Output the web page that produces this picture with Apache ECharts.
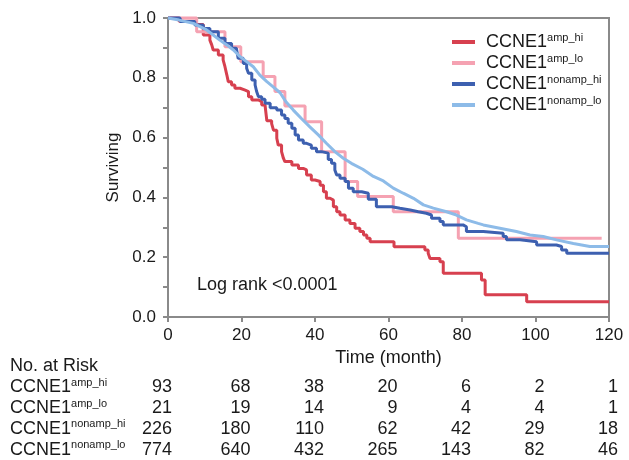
<!DOCTYPE html>
<html>
<head>
<meta charset="utf-8">
<script src="https://cdn.jsdelivr.net/npm/echarts@6/dist/echarts.min.js"></script>
<style>
  html, body { margin: 0; padding: 0; background: #fff; }
  #chart { width: 629px; height: 460px; }
</style>
</head>
<body>
<div id="chart"></div>
<script>
// survival curves, [month, surviving] at each drop
const groups = ['amp_hi', 'amp_lo', 'nonamp_hi', 'nonamp_lo'];

const ampHi = [
  [0, 1], [3, 0.989], [7.5, 0.978], [9.6, 0.943], [11.4, 0.926], [11.9, 0.91], [12.3, 0.893],
  [13.7, 0.876], [15, 0.86], [15.5, 0.837], [16, 0.81], [16.4, 0.787], [17.3, 0.776],
  [18.2, 0.765], [19.6, 0.759], [21, 0.754], [21.9, 0.737], [22.8, 0.726], [24.6, 0.72],
  [25.5, 0.709], [26.4, 0.703], [26.9, 0.656], [28.2, 0.647], [28.7, 0.625], [29.6, 0.598],
  [30, 0.575], [30.9, 0.553], [31.4, 0.531], [31.8, 0.52], [33.7, 0.508], [35.5, 0.497],
  [36.8, 0.492], [37.7, 0.475], [39, 0.458], [40, 0.453], [41.4, 0.441], [42.3, 0.419],
  [43.1, 0.397], [44.1, 0.391], [45, 0.369], [45.9, 0.352], [46.8, 0.341], [48.2, 0.324],
  [49.5, 0.313], [50.9, 0.297], [52.2, 0.286], [53.2, 0.274], [54.1, 0.263], [55, 0.252],
  [61.5, 0.235], [69.9, 0.224], [70.8, 0.213], [71.3, 0.196], [74, 0.185], [74.9, 0.146],
  [85.3, 0.124], [86.3, 0.074], [97.6, 0.051], [120, 0.051]
];
const ampLo = [
  [0, 1], [7.8, 0.954], [15.5, 0.904], [19.8, 0.854], [25.9, 0.804], [29.1, 0.754],
  [31.8, 0.706], [37.3, 0.653], [41.8, 0.553], [48.2, 0.453], [51.6, 0.403], [61.3, 0.352],
  [79, 0.263], [118, 0.263]
];
const nonampHi = [
  [0, 1], [3.3, 0.988], [7.3, 0.977], [9.6, 0.965], [11.4, 0.954], [13.7, 0.932], [15.5, 0.915],
  [17.3, 0.899], [18.6, 0.893], [19.1, 0.865], [20.5, 0.848], [21.4, 0.832], [21.9, 0.815],
  [22.8, 0.793], [23.7, 0.776], [24.1, 0.755], [24.6, 0.737], [25.5, 0.728], [26.4, 0.715],
  [27.8, 0.7], [29.6, 0.692], [30.9, 0.676], [31.8, 0.664], [32.7, 0.648], [33.7, 0.631],
  [34.6, 0.609], [35.5, 0.592], [36.8, 0.581], [37.7, 0.575], [39, 0.564], [40.4, 0.553],
  [41.8, 0.548], [43.6, 0.527], [44.5, 0.514], [45.4, 0.492], [45.9, 0.475], [46.8, 0.464],
  [48.2, 0.453], [49.1, 0.431], [50.4, 0.419], [52.7, 0.414], [54.5, 0.394], [56.7, 0.369],
  [60.9, 0.364], [63.1, 0.358], [65.9, 0.352], [68.1, 0.347], [70.3, 0.341], [71.7, 0.33],
  [74, 0.319], [74.9, 0.308], [80.3, 0.302], [81.2, 0.286], [85.8, 0.28], [91.2, 0.269],
  [92.1, 0.258], [95.8, 0.252], [100.3, 0.241], [105.7, 0.236], [107.1, 0.224],
  [108.5, 0.213], [120, 0.213]
];
const nonampLo = [
  [0, 1], [3, 0.993], [6.9, 0.982], [8.7, 0.971], [10.5, 0.96], [12.3, 0.943], [14.1, 0.926],
  [16, 0.91], [17.8, 0.893], [19.6, 0.871], [21.4, 0.854], [23.2, 0.837], [25, 0.809],
  [26.9, 0.787], [28.7, 0.769], [30.5, 0.75], [32.2, 0.718], [34.1, 0.692], [36.3, 0.664],
  [38.6, 0.636], [40.9, 0.609], [43.1, 0.581], [45.4, 0.553], [47.7, 0.531], [49.9, 0.514],
  [53, 0.494], [55.9, 0.47], [58.6, 0.455], [61.3, 0.431], [64, 0.414], [66.8, 0.397],
  [69.5, 0.375], [72.2, 0.364], [75.8, 0.352], [78.5, 0.341], [81.2, 0.325], [84.4, 0.313],
  [85.8, 0.308], [90.3, 0.297], [94.8, 0.286], [98.5, 0.274], [102.1, 0.269], [105.7, 0.258],
  [110.3, 0.246], [114.8, 0.236], [120, 0.236]
];
const curves = [ampHi, ampLo, nonampHi, nonampLo];

// number at risk table
const riskTimes = [0, 20, 40, 60, 80, 100, 120];
const riskAmpHi = [93, 68, 38, 20, 6, 2, 1];
const riskAmpLo = [21, 19, 14, 9, 4, 4, 1];
const riskNonampHi = [226, 180, 110, 62, 42, 29, 18];
const riskNonampLo = [774, 640, 432, 265, 143, 82, 46];
const riskCounts = [riskAmpHi, riskAmpLo, riskNonampHi, riskNonampLo];
const riskTitle = 'No. at Risk';

const colors = ['#d7404f', '#f5a2b2', '#3d60b0', '#8dbbe8'];
const FONT = '"Liberation Sans", Arial, sans-serif';
const INK = '#1a1a1a';
const GRAY = '#8a8a8a';

const chart = echarts.init(document.getElementById('chart'), null, { renderer: 'canvas' });

const supRich = {
  b: { fontSize: 18, lineHeight: 20, color: INK, fontFamily: FONT },
  s: { fontSize: 11, lineHeight: 13, verticalAlign: 'top', color: INK, fontFamily: FONT },
  t: { fontSize: 18, lineHeight: 20, color: INK, fontFamily: FONT }
};
const groupLabel = g => '{b|CCNE1}{s|' + g + '}';

const riskData = [];
groups.forEach((g, gi) => {
  riskTimes.forEach((t, i) => {
    riskData.push({
      value: [t, g, riskCounts[gi][i]],
      label: { offset: [i === 0 ? 4 : 9, 0] }
    });
  });
});

const option = {
  animation: false,
  textStyle: { fontFamily: FONT },
  grid: [
    { left: 168, top: 18, right: 20, bottom: 143, show: true, borderColor: GRAY, borderWidth: 2 },
    { left: 168, right: 20, top: 356, height: 109 }
  ],
  legend: {
    orient: 'vertical',
    left: 452,
    top: 32,
    padding: 0,
    icon: 'rect',
    itemWidth: 23,
    itemHeight: 4,
    itemGap: 2,
    data: groups,
    formatter: n => '{p|}' + groupLabel(n),
    textStyle: { rich: Object.assign({ p: { width: 6 } }, supRich) }
  },
  xAxis: [
    {
      type: 'value', gridIndex: 0, min: 0, max: 120, interval: 20,
      axisLine: { show: false },
      axisTick: { length: 5, lineStyle: { color: GRAY, width: 2 } },
      splitLine: { show: false },
      axisLabel: { fontSize: 17, color: INK, margin: 10 },
      name: 'Time (month)', nameLocation: 'middle', nameGap: 28,
      nameTextStyle: { fontSize: 18, color: INK }
    },
    { type: 'value', gridIndex: 1, min: 0, max: 120, show: false }
  ],
  yAxis: [
    {
      type: 'value', gridIndex: 0, min: 0, max: 1, interval: 0.2,
      axisLine: { show: false },
      axisTick: { length: 5, lineStyle: { color: GRAY, width: 2 } },
      minorTick: { show: true, splitNumber: 2, length: 5, lineStyle: { color: GRAY, width: 2 } },
      splitLine: { show: false },
      minorSplitLine: { show: false },
      axisLabel: { fontSize: 17, color: INK, margin: 12, formatter: v => v.toFixed(1) },
      name: 'Surviving', nameLocation: 'middle', nameGap: 45,
      nameTextStyle: { fontSize: 17, color: INK }
    },
    {
      type: 'category', gridIndex: 1, inverse: true,
      data: [riskTitle].concat(groups),
      axisLine: { show: false },
      axisTick: { show: false },
      axisLabel: {
        interval: 0, align: 'left', margin: 158,
        formatter: v => v === riskTitle ? '{t|' + v + '}' : groupLabel(v),
        rich: supRich
      }
    }
  ],
  graphic: [
    {
      type: 'text', left: 197, top: 276,
      style: { text: 'Log rank <0.0001', fontSize: 18, fontFamily: FONT, fill: INK }
    }
  ],
  series: groups.map((g, i) => ({
    name: g,
    type: 'line',
    xAxisIndex: 0,
    yAxisIndex: 0,
    data: curves[i],
    step: g === 'nonamp_lo' ? false : 'end',
    showSymbol: false,
    clip: false,
    color: colors[i],
    lineStyle: { width: 3, color: colors[i] }
  })).concat([{
    type: 'scatter',
    xAxisIndex: 1,
    yAxisIndex: 1,
    symbolSize: 1,
    itemStyle: { color: 'rgba(0,0,0,0)', opacity: 1 },
    data: riskData,
    label: {
      show: true, position: 'inside', align: 'right',
      fontSize: 18, color: INK, fontFamily: FONT, opacity: 1,
      formatter: p => String(p.value[2])
    }
  }])
};

chart.setOption(option);
</script>
</body>
</html>
